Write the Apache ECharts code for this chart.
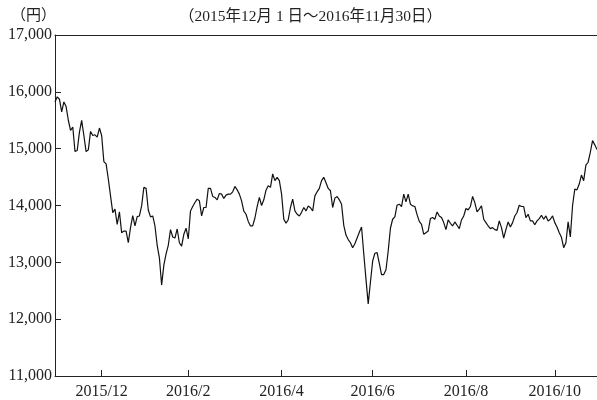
<!DOCTYPE html>
<html>
<head>
<meta charset="utf-8">
<script src="https://cdn.jsdelivr.net/npm/echarts@6/dist/echarts.min.js"></script>
<style>
html,body{margin:0;padding:0;background:#fff;}
#c{width:597px;height:400px;}
</style>
</head>
<body>
<div id="c"></div>
<script>
// Month names (one entry per month of daily data)
const months = ['2015/12','2016/1','2016/2','2016/3','2016/4','2016/5','2016/6','2016/7','2016/8','2016/9','2016/10','2016/11'];
// Daily closing values (円), one array per month
const dec2015 = [15823,15912,15870,15646,15823,15740,15500,15320,15380,14949,14967,15292,15497,15232,14949,14979,15303,15232,15244,15204,15363];
const jan2016 = [15232,14772,14731,14466,14170,13876,13935,13669,13887,13522,13550,13550,13345,13611,13823,13640,13805,13816,13993];
const feb2016 = [14319,14301,13920,13800,13816,13640,13300,13080,12600,12950,13150,13300,13575,13446,13428,13587,13345,13286,13493,13600];
const mar2016 = [13411,13905,13982,14053,14112,14082,13816,13965,13965,14301,14301,14159,14142,14099,14212,14200,14124,14182,14200,14200,14241,14336];
const apr2016 = [14276,14200,14082,13900,13846,13720,13640,13640,13780,13980,14142,14000,14100,14270,14347,14319,14555,14437,14496,14437];
const may2016 = [14200,13758,13690,13750,13965,14112,13905,13846,13816,13880,13965,13905,13993,13960,13905,14170,14241,14301,14437];
const jun2016 = [14496,14400,14300,14259,13965,14130,14159,14100,14023,13650,13480,13400,13345,13257,13328,13428,13528,13623,13150,12700,12270,12650];
const jul2016 = [13020,13160,13170,12980,12785,12785,12870,13200,13600,13758,13800,14005,14023,13982,14200,14064,14200,14023,13993,13982];
const aug2016 = [13840,13720,13669,13493,13522,13550,13770,13788,13758,13887,13816,13788,13699,13575,13746,13687,13640,13711,13652,13593,13746,13816];
const sep2016 = [13947,13923,13982,14159,14050,13887,13935,13993,13758,13699,13640,13593,13611,13575,13563,13729,13611,13428,13575,13711];
const oct2016 = [13623,13699,13816,13876,14005,13982,13982,13788,13846,13729,13729,13660,13729,13770,13829,13758,13816,13729,13758,13816];
const nov2016 = [13699,13623,13522,13440,13257,13345,13711,13446,14000,14288,14276,14377,14535,14437,14710,14761,14938,15143,15067,14984];
// Months whose end is marked with a tick and label on the x axis
const tickMonths = ['2015/12','2016/2','2016/4','2016/6','2016/8','2016/10'];
const yTicks = [11000,12000,13000,14000,15000,16000,17000];
const titleUnit = '（円）';
const titlePeriod = '（2015年12月 1 日～2016年11月30日）';

const monthly = [dec2015,jan2016,feb2016,mar2016,apr2016,may2016,jun2016,jul2016,aug2016,sep2016,oct2016,nov2016];
const categories = [];
const values = [];
const tickLabelAt = {};
monthly.forEach((arr, m) => {
  arr.forEach((v, j) => {
    categories.push(months[m] + '-' + (j + 1));
    values.push(v);
  });
  if (tickMonths.includes(months[m])) {
    tickLabelAt[values.length] = months[m]; // first trading day of next month
  }
});

const serif = '"Liberation Serif","DejaVu Serif","Noto Sans CJK JP",serif';
const ink = '#222';
const chart = echarts.init(document.getElementById('c'), null, {renderer: 'canvas'});
chart.setOption({
  animation: false,
  backgroundColor: '#fff',
  title: [
    {text: titleUnit, left: 6, top: 4, textStyle: {fontFamily: serif, fontSize: 15, fontWeight: 'normal', color: ink}},
    {text: titlePeriod, left: 174, top: 4, textStyle: {fontFamily: serif, fontSize: 15.5, fontWeight: 'normal', color: ink}}
  ],
  grid: {left: 55, right: 0, top: 35, bottom: 24, containLabel: false, outerBoundsMode: 'none'},
  xAxis: [{
    type: 'category',
    data: categories,
    boundaryGap: false,
    axisLine: {show: true, lineStyle: {color: ink, width: 1}},
    axisTick: {show: true, inside: true, length: 6, lineStyle: {color: ink},
      interval: (i) => tickLabelAt[i] !== undefined},
    axisLabel: {show: true, margin: 8, fontFamily: serif, fontSize: 16, color: ink,
      interval: (i) => tickLabelAt[i] !== undefined,
      formatter: (v, i) => tickLabelAt[i] || ''},
    splitLine: {show: false}
  }, {
    type: 'category',
    data: categories,
    position: 'top',
    boundaryGap: false,
    axisLine: {show: true, lineStyle: {color: ink, width: 1}},
    axisTick: {show: false},
    axisLabel: {show: false},
    splitLine: {show: false}
  }],
  yAxis: {
    type: 'value',
    min: yTicks[0],
    max: yTicks[yTicks.length - 1],
    interval: 1000,
    axisLine: {show: true, lineStyle: {color: ink, width: 1}},
    axisTick: {show: true, inside: true, length: 6, lineStyle: {color: ink}},
    axisLabel: {margin: 3, fontFamily: serif, fontSize: 16, color: ink,
      formatter: (v) => v.toLocaleString('en-US')},
    splitLine: {show: false}
  },
  series: [{
    type: 'line',
    data: values,
    showSymbol: false,
    symbol: 'none',
    lineStyle: {color: '#111', width: 1.2},
    emphasis: {disabled: true}
  }]
});
</script>
</body>
</html>
